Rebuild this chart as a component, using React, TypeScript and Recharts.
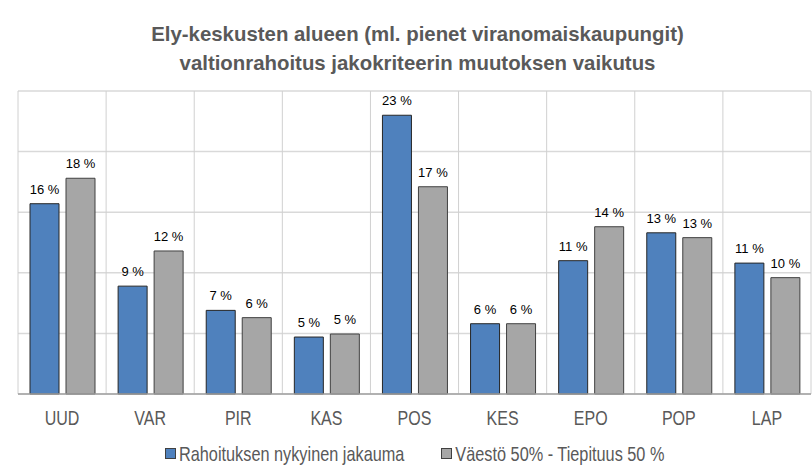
import React from 'react';
import { BarChart, Bar, XAxis, YAxis, CartesianGrid, LabelList, Legend } from 'recharts';

const categories = ['UUD', 'VAR', 'PIR', 'KAS', 'POS', 'KES', 'EPO', 'POP', 'LAP'];
const currentShare = [15.7, 8.9, 6.9, 4.7, 23.0, 5.8, 11.0, 13.3, 10.8];
const proposedShare = [17.8, 11.8, 6.3, 4.95, 17.1, 5.8, 13.8, 12.9, 9.6];
const seriesNames = ['Rahoituksen nykyinen jakauma', 'Väestö 50% - Tiepituus 50 %'];
const yTicks = [0, 5, 10, 15, 20, 25];
const titleLines = [
  'Ely-keskusten alueen (ml. pienet viranomaiskaupungit)',
  'valtionrahoitus jakokriteerin muutoksen vaikutus',
];

const data = categories.map((c, i) => ({
  cat: c,
  current: currentShare[i],
  proposed: proposedShare[i],
}));

const SANS = '"Liberation Sans", Arial, sans-serif';

const renderLegend = (props: any) => {
  const { payload } = props;
  return (
    <div
      style={{
        display: 'flex',
        alignItems: 'center',
        fontFamily: SANS,
        fontSize: 16.3,
        lineHeight: '20px',
        color: '#595959',
        whiteSpace: 'nowrap',
      }}
    >
      {(payload || []).map((p: any, i: number) => (
        <div key={i} style={{ display: 'flex', alignItems: 'center', marginRight: i === 0 ? 37 : 0 }}>
          <span
            style={{
              display: 'inline-block',
              width: 11,
              height: 11,
              boxSizing: 'border-box',
              background: p.color,
              border: '1px solid #404040',
              marginRight: 3,
            }}
          />
          <span style={{ display: 'inline-block', transform: 'scaleY(1.25)' }}>{p.value}</span>
        </div>
      ))}
    </div>
  );
};

const AxisTick = (props: any) => {
  const { x, y, payload } = props;
  return (
    <text
      transform={`translate(${x},${y}) scale(1,1.25)`}
      x={0}
      y={0}
      textAnchor="middle"
      fontFamily={SANS}
      fontSize={16}
      fill="#595959"
    >
      {payload.value}
    </text>
  );
};

const ValueLabel = (props: any) => {
  const { x, y, width, value } = props;
  return (
    <text
      x={Number(x) + Number(width) / 2}
      y={Number(y) - 10}
      textAnchor="middle"
      fontFamily={SANS}
      fontSize={13}
      fill="#000"
    >
      {`${Math.round(Number(value))} %`}
    </text>
  );
};

export default function App() {
  return (
    <div style={{ position: 'absolute', left: 0, top: 0, width: 812, height: 469, background: '#fff' }}>
      <div
        style={{
          position: 'absolute',
          left: 23,
          width: 789,
          top: 20,
          textAlign: 'center',
          fontFamily: SANS,
          fontWeight: 'bold',
          fontSize: 20.4,
          lineHeight: '29px',
          color: '#595959',
        }}
      >
        {titleLines.map((t, i) => (
          <div key={i}>{t}</div>
        ))}
      </div>
      <BarChart
        width={812}
        height={469}
        data={data}
        margin={{ top: 91, right: 1, left: 18, bottom: 45 }}
        barSize={29}
        barGap={7}
        style={{ position: 'absolute', left: 0, top: 0 }}
      >
        <CartesianGrid vertical={false} stroke="#D9D9D9" strokeWidth={1.5} />
        <CartesianGrid
          horizontal={false}
          stroke="#D0D0D0"
          strokeWidth={1}
          verticalCoordinatesGenerator={({ offset }: any) =>
            categories.map((_, i) => offset.left + (i * offset.width) / categories.length).concat([offset.left + offset.width])
          }
        />
        <YAxis hide domain={[0, 25]} ticks={yTicks} />
        <XAxis
          dataKey="cat"
          height={30}
          tickSize={0}
          tickMargin={31}
          tickLine={false}
          axisLine={{ stroke: '#A0A0A0', strokeWidth: 1.5 }}
          tick={<AxisTick />}
          interval={0}
        />
        <Legend
          layout="horizontal"
          verticalAlign="middle"
          align="center"
          content={renderLegend}
          wrapperStyle={{ top: 443, left: 165, width: 'auto', height: 20 }}
        />
        <Bar dataKey="current" name={seriesNames[0]} fill="#4F81BD" stroke="#262626" strokeWidth={1} isAnimationActive={false}>
          <LabelList dataKey="current" content={<ValueLabel />} />
        </Bar>
        <Bar dataKey="proposed" name={seriesNames[1]} fill="#A6A6A6" stroke="#404040" strokeWidth={1} isAnimationActive={false}>
          <LabelList dataKey="proposed" content={<ValueLabel />} />
        </Bar>
      </BarChart>
    </div>
  );
}
